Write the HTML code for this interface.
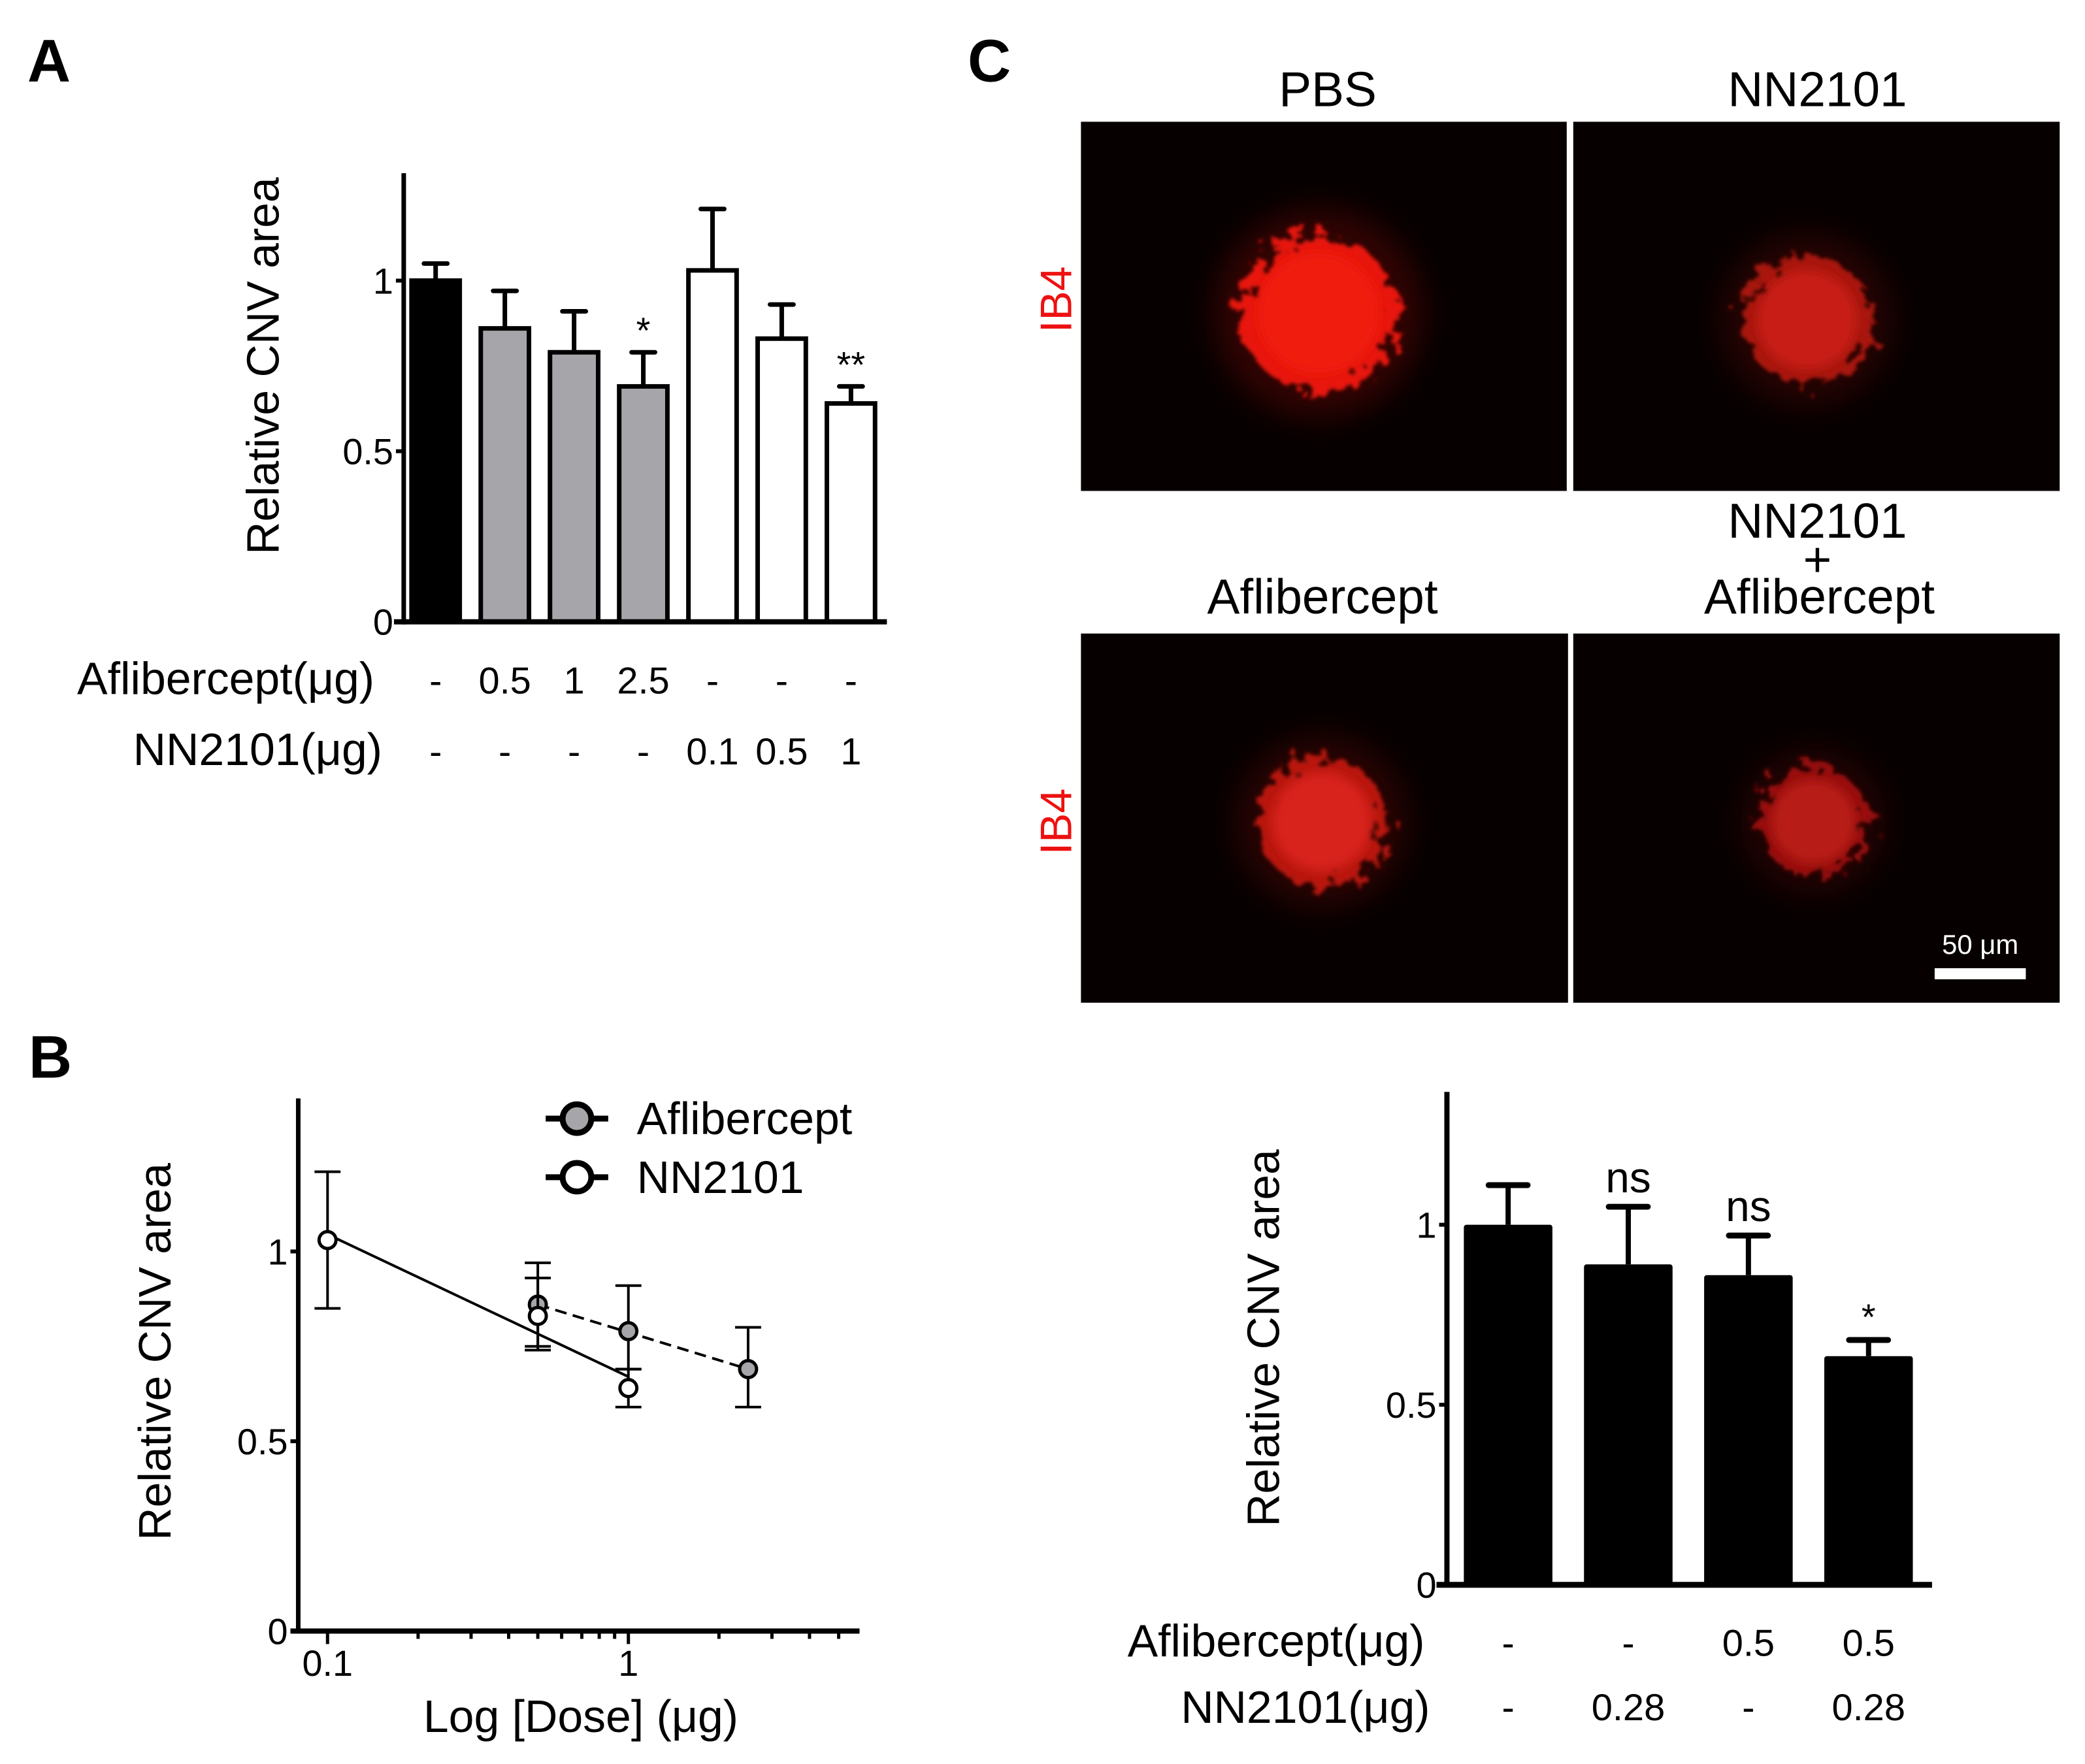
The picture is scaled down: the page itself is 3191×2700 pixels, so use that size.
<!DOCTYPE html>
<html><head><meta charset="utf-8"><style>
html,body{margin:0;padding:0;background:#fff;}
svg{display:block;}
text{font-family:"Liberation Sans",Arial,sans-serif;}
</style></head><body>
<svg id="fig" xmlns="http://www.w3.org/2000/svg" width="3191" height="2700" viewBox="0 0 3191 2700">
<defs>
<filter id="blur8" x="-50%" y="-50%" width="200%" height="200%"><feGaussianBlur stdDeviation="8"/></filter>
<filter id="blur20" x="-50%" y="-50%" width="200%" height="200%"><feGaussianBlur stdDeviation="22"/></filter>
<filter id="rough" x="-50%" y="-50%" width="200%" height="200%">
<feTurbulence type="fractalNoise" baseFrequency="0.05" numOctaves="3" seed="3"/>
<feDisplacementMap in="SourceGraphic" scale="70"/>
<feGaussianBlur stdDeviation="3"/></filter>
</defs>
<g id="root" transform="scale(0.9966)"></g>
</svg>
<script>
// ---------- Panel A data ----------
const aValues = [1.0, 0.86, 0.79, 0.69, 1.03, 0.83, 0.64];
const aErrTop = [1.05, 0.97, 0.91, 0.79, 1.21, 0.93, 0.69];
const aFills = ['#000000','#a6a5aa','#a6a5aa','#a6a5aa','#ffffff','#ffffff','#ffffff'];
const aAflib = ['-','0.5','1','2.5','-','-','-'];
const aNN = ['-','-','-','-','0.1','0.5','1'];
const aStars = ['','','','*','','','**'];
const aTicks = [0, 0.5, 1];
const aTickLabels = ['0','0.5','1'];
// ---------- Panel B data ----------
const bAflibDose = [0.5, 1, 2.5];
const bAflibMean = [0.86, 0.79, 0.69];
const bAflibLo = [0.75, 0.69, 0.59];
const bAflibHi = [0.97, 0.91, 0.80];
const bNNDose = [0.1, 0.5, 1];
const bNNMean = [1.03, 0.83, 0.64];
const bNNLo = [0.85, 0.74, 0.59];
const bNNHi = [1.21, 0.93, 0.69];
const bNNFit = [1.045, 0.67];
const bAflibFit = [0.86, 0.69];
const bYTicks = [0, 0.5, 1];
const bYTickLabels = ['0','0.5','1'];
const bXTickLabels = ['0.1','1'];
const bXTicks = [0.1, 1];
// ---------- Panel C data ----------
const cValues = [1.0, 0.89, 0.86, 0.635];
const cErrTop = [1.11, 1.05, 0.97, 0.68];
const cSig = ['', 'ns', 'ns', '*'];
const cAflib = ['-','-','0.5','0.5'];
const cNN = ['-','0.28','-','0.28'];
const cTicks = [0, 0.5, 1];
const cTickLabels = ['0','0.5','1'];

const NS='http://www.w3.org/2000/svg';
const root=document.getElementById('root');
function mk(tag,attrs,parent,txt){const e=document.createElementNS(NS,tag);for(const k in attrs)e.setAttribute(k,attrs[k]);if(txt!==undefined)e.textContent=txt;(parent||root).appendChild(e);return e;}

[['A',42,125],['B',44,1655],['C',1486,125]].forEach(p=>{
  const t=mk('text',{x:p[1],y:p[2],'font-size':92,'font-weight':'bold'},root,p[0]);
  
  
});

// ---------- Panel A ----------
(function(){
  const g=mk('g',{});
  
  
  const y0=955, unit=524, x0=620;
  const ys=v=>y0-v*unit;
  const xc=i=>669+i*106.3;
  const bw=74;
  aValues.forEach((v,i)=>{
    const e=mk('line',{x1:xc(i),x2:xc(i),y1:ys(v),y2:ys(aErrTop[i]),stroke:'#000','stroke-width':7},g);
    
    const c=mk('line',{x1:xc(i)-18,x2:xc(i)+18,y1:ys(aErrTop[i]),y2:ys(aErrTop[i]),stroke:'#000','stroke-width':7,'stroke-linecap':'round'},g);
    
    const r=mk('rect',{x:xc(i)-bw/2,y:ys(v),width:bw,height:y0-ys(v),fill:aFills[i],stroke:'#000','stroke-width':7},g);
    
    if(aStars[i]){const s=mk('text',{x:xc(i),y:ys(aErrTop[i])-14,'font-size':56,'text-anchor':'middle'},g,aStars[i]);
      }
    const t1=mk('text',{x:xc(i),y:1065,'font-size':58,'text-anchor':'middle'},g,aAflib[i]);
    
    const t2=mk('text',{x:xc(i),y:1174,'font-size':58,'text-anchor':'middle'},g,aNN[i]);
    
  });
  const ya=mk('line',{x1:x0,x2:x0,y1:266,y2:y0+4,stroke:'#000','stroke-width':7},g);
  
  const xa=mk('line',{x1:605,x2:1362,y1:y0,y2:y0,stroke:'#000','stroke-width':8},g);
  
  aTicks.forEach((v,i)=>{
    mk('line',{x1:x0-12,x2:x0,y1:ys(v),y2:ys(v),stroke:'#000','stroke-width':6},g);
    const t=mk('text',{x:x0-16,y:ys(v)+20,'font-size':56,'text-anchor':'end'},g,aTickLabels[i]);
    
  });
  const yt=mk('text',{x:0,y:0,'font-size':70,'text-anchor':'middle',transform:'translate(428,562) rotate(-90)'},g,'Relative CNV area');
  
  const r1=mk('text',{x:575,y:1066,'font-size':70,'text-anchor':'end'},g,'Aflibercept(μg)');
  
  const r2=mk('text',{x:587,y:1175,'font-size':70,'text-anchor':'end'},g,'NN2101(μg)');
  
})();

// ---------- Panel B ----------
(function(){
  const g=mk('g',{});
  
  
  const y0=2505, unit=583, x0=458;
  const ys=v=>y0-v*unit;
  const xs=d=>503+Math.log10(d/0.1)*462;
  const ya=mk('line',{x1:x0,x2:x0,y1:1687,y2:y0+4,stroke:'#000','stroke-width':7},g);
  
  const xa=mk('line',{x1:446,x2:1320,y1:y0,y2:y0,stroke:'#000','stroke-width':8},g);
  
  bYTicks.forEach((v,i)=>{
    mk('line',{x1:x0-12,x2:x0,y1:ys(v),y2:ys(v),stroke:'#000','stroke-width':6},g);
    const t=mk('text',{x:x0-16,y:ys(v)+20,'font-size':56,'text-anchor':'end'},g,bYTickLabels[i]);
    
  });
  [0.1,0.2,0.3,0.4,0.5,0.6,0.7,0.8,0.9,1,2,3,4,5].forEach(d=>{
    const major=(d===0.1||d===1);
    mk('line',{x1:xs(d),x2:xs(d),y1:y0,y2:y0+(major?20:12),stroke:'#000','stroke-width':5},g);
  });
  bXTicks.forEach((d,i)=>{
    const t=mk('text',{x:xs(d),y:2574,'font-size':56,'text-anchor':'middle'},g,bXTickLabels[i]);
    
  });
  const fn=mk('line',{x1:xs(bNNDose[0]),y1:ys(bNNFit[0]),x2:xs(bNNDose[2]),y2:ys(bNNFit[1]),stroke:'#000','stroke-width':4},g);
  
  const fa=mk('line',{x1:xs(bAflibDose[0]),y1:ys(bAflibFit[0]),x2:xs(bAflibDose[2]),y2:ys(bAflibFit[1]),stroke:'#000','stroke-width':4,'stroke-dasharray':'18 10'},g);
  
  function series(dose,mean,lo,hi,fill,name){
    dose.forEach((d,i)=>{
      const x=xs(d);
      const e=mk('line',{x1:x,x2:x,y1:ys(lo[i]),y2:ys(hi[i]),stroke:'#000','stroke-width':4},g);
      
      [lo[i],hi[i]].forEach(v=>mk('line',{x1:x-20,x2:x+20,y1:ys(v),y2:ys(v),stroke:'#000','stroke-width':4},g));
    });
    dose.forEach((d,i)=>{
      const c=mk('circle',{cx:xs(d),cy:ys(mean[i]),r:13,fill:fill,stroke:'#000','stroke-width':5},g);
      
    });
  }
  series(bAflibDose,bAflibMean,bAflibLo,bAflibHi,'#a6a5aa','aflibercept');
  series(bNNDose,bNNMean,bNNLo,bNNHi,'#ffffff','nn2101');
  [['Aflibercept','#a6a5aa',1718],['NN2101','#ffffff',1808]].forEach(l=>{
    const lg=mk('g',{},g);
    
    
    mk('line',{x1:838,x2:934,y1:l[2],y2:l[2],stroke:'#000','stroke-width':9},lg);
    mk('circle',{cx:886,cy:l[2],r:22,fill:l[1],stroke:'#000','stroke-width':9},lg);
    mk('text',{x:978,y:l[2]+24,'font-size':70},lg,l[0]);
  });
  const yt=mk('text',{x:0,y:0,'font-size':70,'text-anchor':'middle',transform:'translate(262,2076) rotate(-90)'},g,'Relative CNV area');
  
  const xt=mk('text',{x:892,y:2660,'font-size':70,'text-anchor':'middle'},g,'Log [Dose] (μg)');
  
})();

// ---------- Panel C micrographs ----------
(function(){
  const g=mk('g',{});
  
  
  const imgs=[
    {x:1660,y:187,w:746,h:567,name:'pbs-image',cx:2025,cy:481,r:115,c:'#e8120c',core:'#f01a10'},
    {x:2416,y:187,w:747,h:567,name:'nn2101-image',cx:2775,cy:491,r:95,c:'#a8120c',core:'#c81c14'},
    {x:1660,y:973,w:748,h:567,name:'aflibercept-image',cx:2030,cy:1262,r:95,c:'#b8140e',core:'#d8221a'},
    {x:2416,y:973,w:747,h:567,name:'combo-image',cx:2785,cy:1262,r:80,c:'#981009',core:'#b81a12'}
  ];
  imgs.forEach((m,i)=>{
    const ig=mk('g',{},g);
    
    
    mk('rect',{x:m.x,y:m.y,width:m.w,height:m.h,fill:'#070000'},ig);
    mk('circle',{cx:m.cx,cy:m.cy,r:m.r*1.4,fill:m.c,opacity:0.18,filter:'url(#blur20)'},ig);
    mk('circle',{cx:m.cx,cy:m.cy,r:m.r*1.05,fill:m.c,filter:'url(#rough)'},ig);
    mk('circle',{cx:m.cx,cy:m.cy,r:m.r*0.8,fill:m.core,filter:'url(#blur8)'},ig);
  });
  const titles=[['PBS',2039,163],['NN2101',2791,163],['Aflibercept',2031,942],['NN2101',2791,826],['+',2791,885],['Aflibercept',2794,942]];
  titles.forEach(t=>{
    const e=mk('text',{x:t[1],y:t[2],'font-size':75,'text-anchor':'middle'},g,t[0]);
    
  });
  [460,1262].forEach(y=>{
    const e=mk('text',{x:0,y:0,'font-size':68,fill:'#ee1111','text-anchor':'middle',transform:'translate(1645,'+y+') rotate(-90)'},g,'IB4');
    
  });
  const sb=mk('rect',{x:2971,y:1487,width:140,height:17,fill:'#fff'},g);
  
  const st=mk('text',{x:3041,y:1465,'font-size':42,fill:'#fff','text-anchor':'middle'},g,'50 μm');
  
})();

// ---------- Panel C bar chart ----------
(function(){
  const g=mk('g',{});
  
  
  const y0=2434, unit=553, x0=2222;
  const ys=v=>y0-v*unit;
  const xc=i=>2316+i*184.5;
  const bw=136;
  cValues.forEach((v,i)=>{
    const e=mk('line',{x1:xc(i),x2:xc(i),y1:ys(v),y2:ys(cErrTop[i]),stroke:'#000','stroke-width':8},g);
    
    const c=mk('line',{x1:xc(i)-30,x2:xc(i)+30,y1:ys(cErrTop[i]),y2:ys(cErrTop[i]),stroke:'#000','stroke-width':9,'stroke-linecap':'round'},g);
    
    const r=mk('rect',{x:xc(i)-bw/2,y:ys(v),width:bw,height:y0-ys(v),fill:'#000',rx:4},g);
    
    if(cSig[i]){const s=mk('text',{x:xc(i),y:ys(cErrTop[i])-(cSig[i]==='*'?16:22),'font-size':cSig[i]==='*'?56:66,'text-anchor':'middle'},g,cSig[i]);
      }
    const t1=mk('text',{x:xc(i),y:2543,'font-size':58,'text-anchor':'middle'},g,cAflib[i]);
    
    const t2=mk('text',{x:xc(i),y:2642,'font-size':58,'text-anchor':'middle'},g,cNN[i]);
    
  });
  const ya=mk('line',{x1:x0,x2:x0,y1:1677,y2:y0+4,stroke:'#000','stroke-width':8},g);
  
  const xa=mk('line',{x1:2206,x2:2967,y1:y0,y2:y0,stroke:'#000','stroke-width':9},g);
  
  cTicks.forEach((v,i)=>{
    mk('line',{x1:x0-12,x2:x0,y1:ys(v),y2:ys(v),stroke:'#000','stroke-width':6},g);
    const t=mk('text',{x:x0-16,y:ys(v)+20,'font-size':56,'text-anchor':'end'},g,cTickLabels[i]);
    
  });
  const yt=mk('text',{x:0,y:0,'font-size':70,'text-anchor':'middle',transform:'translate(1964,2055) rotate(-90)'},g,'Relative CNV area');
  
  const r1=mk('text',{x:2188,y:2544,'font-size':70,'text-anchor':'end'},g,'Aflibercept(μg)');
  
  const r2=mk('text',{x:2196,y:2646,'font-size':70,'text-anchor':'end'},g,'NN2101(μg)');
  
})();
</script>
</body></html>
